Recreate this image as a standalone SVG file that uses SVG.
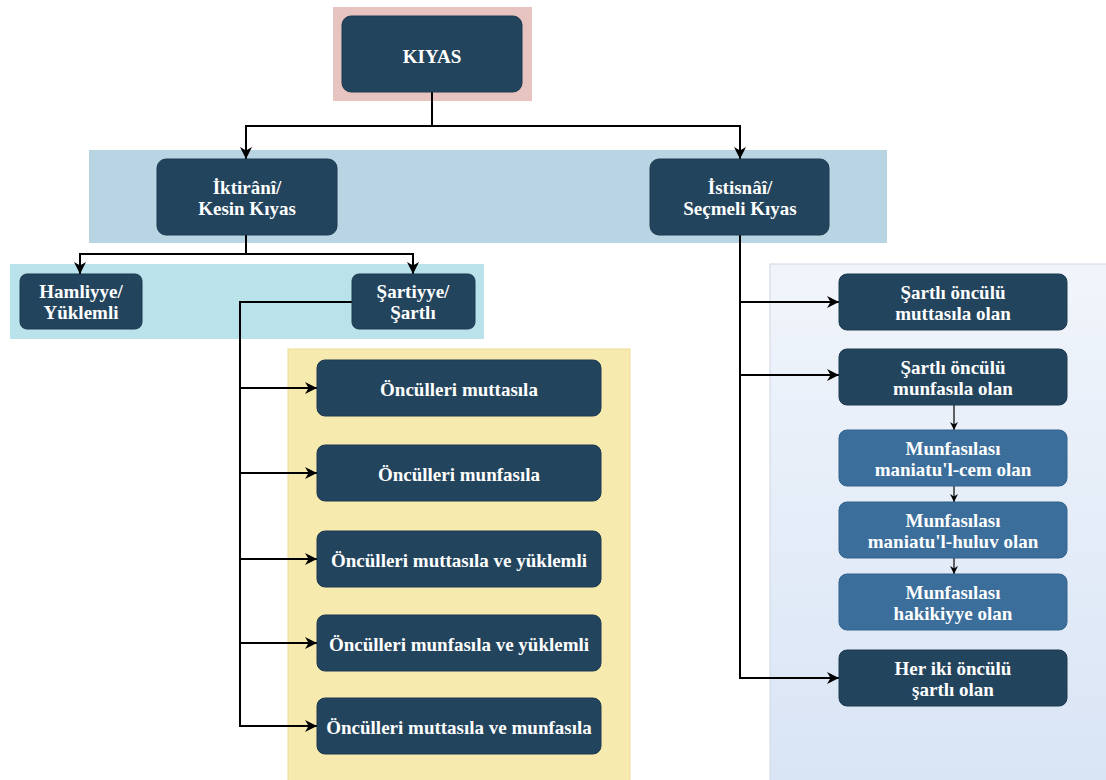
<svg xmlns="http://www.w3.org/2000/svg" width="1106" height="780" viewBox="0 0 1106 780">
<defs>
<linearGradient id="rp" x1="0" y1="0" x2="0" y2="1">
<stop offset="0" stop-color="#f1f5fb"/>
<stop offset="1" stop-color="#d8e4f5"/>
</linearGradient>
<marker id="ah" markerUnits="userSpaceOnUse" markerWidth="12" markerHeight="12" viewBox="0 0 10 10" refX="10" refY="5" orient="auto">
<path d="M0,0 L10,5 L0,10 L3,5 z" fill="#000"/>
</marker>
<marker id="ahs" markerUnits="userSpaceOnUse" markerWidth="8" markerHeight="8" viewBox="0 0 10 10" refX="10" refY="5" orient="auto">
<path d="M0,0 L10,5 L0,10 L3,5 z" fill="#000"/>
</marker>
</defs>
<style>
.n{fill:#23445d;stroke:#1d3a50;stroke-width:1}
.m{fill:#3b6e9b;stroke:#34638c;stroke-width:1}
text{font-family:"Liberation Serif","Times New Roman",serif;font-weight:bold;font-size:19px;fill:#ffffff;text-anchor:middle}
.c{fill:none;stroke:#000;stroke-width:2;marker-end:url(#ah)}
.cs{fill:none;stroke:#000;stroke-width:1.2;marker-end:url(#ahs)}
</style>
<rect width="1106" height="780" fill="#ffffff"/>
<g id="panels">
<rect x="333" y="7" width="199" height="94" fill="#e8c4c0"/>
<rect x="89" y="150" width="798" height="93" fill="#b9d5e3"/>
<rect x="10" y="264" width="474" height="75" fill="#b9e2ea"/>
<rect x="288" y="349" width="342" height="440" fill="#f7eaae" stroke="#eddc96" stroke-width="1"/>
<rect x="770" y="264" width="345" height="530" fill="url(#rp)" stroke="#cfd8e4" stroke-width="1"/>
</g>
<g id="connectors">
<path class="c" d="M432,92 V126 H246 V159"/>
<path class="c" d="M432,126 H740 V159"/>
<path class="c" d="M246,235 V254 H80 V274"/>
<path class="c" d="M246,254 H413 V274"/>
<path class="c" d="M352,302 H240 V388 H317"/>
<path class="c" d="M240,388 V473 H317"/>
<path class="c" d="M240,473 V559 H317"/>
<path class="c" d="M240,559 V643 H317"/>
<path class="c" d="M240,643 V726 H317"/>
<path class="c" d="M740,235 V302 H839"/>
<path class="c" d="M740,302 V375 H839"/>
<path class="c" d="M740,375 V678 H839"/>
<path class="cs" d="M954,405 V430"/>
<path class="cs" d="M954,486 V502"/>
<path class="cs" d="M954,558 V574"/>
</g>
<g id="kiyas">
<rect class="n" x="342" y="16" width="180" height="76" rx="9"/>
<text x="432" y="63">KIYAS</text>
</g>
<g id="iktirani">
<rect class="n" x="157" y="159" width="180" height="76" rx="9"/>
<text x="247" y="194">İktirânî/</text>
<text x="247" y="215">Kesin Kıyas</text>
</g>
<g id="istisnai">
<rect class="n" x="650" y="159" width="179" height="76" rx="9"/>
<text x="740" y="194">İstisnâî/</text>
<text x="740" y="215">Seçmeli Kıyas</text>
</g>
<g id="hamliyye">
<rect class="n" x="20" y="274" width="122" height="55" rx="7"/>
<text x="81" y="298">Hamliyye/</text>
<text x="81" y="319">Yüklemli</text>
</g>
<g id="sartiyye">
<rect class="n" x="352" y="274" width="123" height="55" rx="7"/>
<text x="413" y="298">Şartiyye/</text>
<text x="413" y="319">Şartlı</text>
</g>
<g id="s1">
<rect class="n" x="317" y="360" width="284" height="56" rx="8"/>
<text x="459" y="396">Öncülleri muttasıla</text>
</g>
<g id="s2">
<rect class="n" x="317" y="445" width="284" height="56" rx="8"/>
<text x="459" y="481">Öncülleri munfasıla</text>
</g>
<g id="s3">
<rect class="n" x="317" y="531" width="284" height="56" rx="8"/>
<text x="459" y="567">Öncülleri muttasıla ve yüklemli</text>
</g>
<g id="s4">
<rect class="n" x="317" y="615" width="284" height="56" rx="8"/>
<text x="459" y="651">Öncülleri munfasıla ve yüklemli</text>
</g>
<g id="s5">
<rect class="n" x="317" y="698" width="284" height="56" rx="8"/>
<text x="459" y="734">Öncülleri muttasıla ve munfasıla</text>
</g>
<g id="r1">
<rect class="n" x="839" y="274" width="228" height="56" rx="8"/>
<text x="953" y="299">Şartlı öncülü</text>
<text x="953" y="320">muttasıla olan</text>
</g>
<g id="r2">
<rect class="n" x="839" y="349" width="228" height="56" rx="8"/>
<text x="953" y="374">Şartlı öncülü</text>
<text x="953" y="395">munfasıla olan</text>
</g>
<g id="r3">
<rect class="m" x="839" y="430" width="228" height="56" rx="8"/>
<text x="953" y="455">Munfasılası</text>
<text x="953" y="476">maniatu'l-cem olan</text>
</g>
<g id="r4">
<rect class="m" x="839" y="502" width="228" height="56" rx="8"/>
<text x="953" y="527">Munfasılası</text>
<text x="953" y="548">maniatu'l-huluv olan</text>
</g>
<g id="r5">
<rect class="m" x="839" y="574" width="228" height="56" rx="8"/>
<text x="953" y="599">Munfasılası</text>
<text x="953" y="620">hakikiyye olan</text>
</g>
<g id="r6">
<rect class="n" x="839" y="650" width="228" height="56" rx="8"/>
<text x="953" y="675">Her iki öncülü</text>
<text x="953" y="696">şartlı olan</text>
</g>
</svg>
